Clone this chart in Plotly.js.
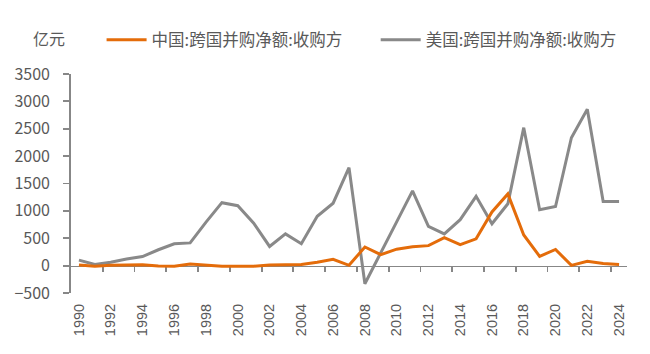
<!DOCTYPE html>
<html>
<head>
<meta charset="utf-8">
<script src="https://cdn.plot.ly/plotly-3.0.1.min.js"></script>
<style>html,body{margin:0;padding:0;background:#fff;}#chart{width:650px;height:354px;}</style>
</head>
<body>
<div id="chart"></div>
<script>
const years = [1990,1991,1992,1993,1994,1995,1996,1997,1998,1999,
               2000,2001,2002,2003,2004,2005,2006,2007,2008,2009,
               2010,2011,2012,2013,2014,2015,2016,2017,2018,2019,
               2020,2021,2022,2023,2024];
const chinaValues = [10,-10,5,10,15,-5,-10,30,10,-10,
                     -10,-10,10,10,20,60,115,5,340,200,
                     300,345,365,510,385,490,980,1310,560,170,
                     295,5,80,40,20];
const usValues = [100,20,60,120,165,290,400,415,795,1150,
                  1095,775,350,580,400,900,1140,1790,-330,250,
                  800,1365,715,580,840,1265,765,1130,2520,1020,
                  1080,2335,2855,1170,1170];
const chinaName = '中国:跨国并购净额:收购方';
const usName = '美国:跨国并购净额:收购方';
const unitLabel = '亿元';
const tickYears = years.filter(y => y % 2 === 0);
const tickLabels = tickYears.map(String);
const boundaryTicks = tickYears.slice(1).map(y => y - 0.5);

const axisColor = '#878787';
const textColor = '#595959';
const cjk = '"Noto Sans CJK SC", "Microsoft YaHei", sans-serif';

const traces = [
  {x: years, y: usValues, name: usName, type: 'scatter', mode: 'lines',
   line: {color: '#898989', width: 3}, xaxis: 'x', yaxis: 'y', legend: 'legend2'},
  {x: years, y: chinaValues, name: chinaName, type: 'scatter', mode: 'lines',
   line: {color: '#E46C0A', width: 3}, xaxis: 'x2', yaxis: 'y', legend: 'legend'}
];

const legendCommon = {orientation: 'h', xanchor: 'left', y: 1.155, yanchor: 'middle',
  font: {family: cjk, size: 16.5, color: textColor}, itemwidth: 40,
  bgcolor: 'rgba(0,0,0,0)', borderwidth: 0};

const layout = {
  width: 650, height: 354,
  margin: {l: 71, r: 23, t: 74, b: 61},
  paper_bgcolor: '#fff', plot_bgcolor: '#fff',
  font: {family: cjk, color: textColor, size: 16},
  showlegend: true,
  legend: Object.assign({}, legendCommon, {x: 0.055}),
  legend2: Object.assign({}, legendCommon, {x: 0.548}),
  xaxis: {range: [1989.5, 2024.5], tickmode: 'array', tickvals: tickYears, ticktext: tickLabels,
          tickangle: -90, ticks: '', showline: false, showgrid: false, zeroline: false,
          ticklabelstandoff: 7,
          tickfont: {family: 'Liberation Sans, Arial, sans-serif', size: 14.5, color: textColor},
          fixedrange: true},
  xaxis2: {range: [1989.5, 2024.5], overlaying: 'x', anchor: 'free', position: 0.125, side: 'bottom',
           tickmode: 'array', tickvals: boundaryTicks, ticks: 'outside', ticklen: 5, tickwidth: 1.8,
           tickcolor: axisColor, showticklabels: false, showline: true, linecolor: axisColor,
           linewidth: 1.8, showgrid: false, zeroline: false, layer: 'below traces'},
  yaxis: {range: [-500, 3500], dtick: 500, tick0: 0, ticks: 'outside', ticklen: 6, tickwidth: 1.8,
          tickcolor: axisColor, showline: true, linecolor: axisColor, linewidth: 1.8,
          showgrid: false, zeroline: false, ticklabelstandoff: 10,
          tickfont: {family: cjk, size: 16, color: textColor}},
  annotations: [
    {text: unitLabel, xref: 'paper', yref: 'paper', x: -0.072, y: 1.164, xanchor: 'left', yanchor: 'middle',
     showarrow: false, font: {family: cjk, size: 16, color: textColor}}
  ]
};

Plotly.newPlot('chart', traces, layout, {displayModeBar: false, staticPlot: true});
</script>
</body>
</html>
